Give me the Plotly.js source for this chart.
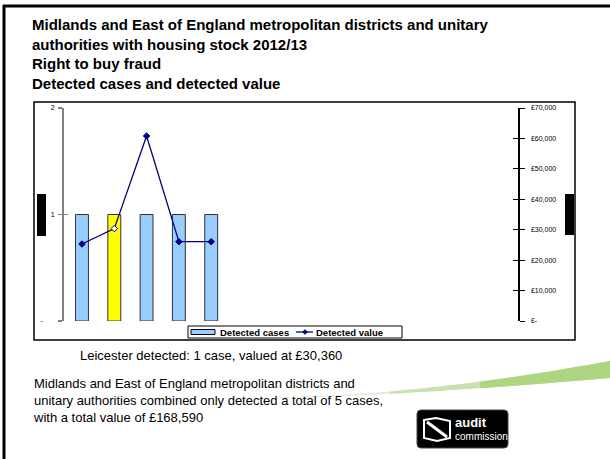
<!DOCTYPE html>
<html>
<head>
<meta charset="utf-8">
<script src="https://cdn.plot.ly/plotly-3.0.1.min.js"></script>
<style>html,body{margin:0;padding:0;background:#fff;}#chart{width:610px;height:459px;}</style>
</head>
<body>
<div id="chart"></div>
<script>
// ---- data ----
const categories = ["Authority 1", "Leicester", "Authority 3", "Authority 4", "Authority 5"];
const detectedCases = [1, 1, 1, 1, 1];
const detectedValue = [25300, 30360, 60800, 26065, 26065];
const caseTickVals = [0, 1, 2];
const caseTickText = ["-\u2007\u2007\u2007", "1", "2"];
const valueTickVals = [0, 10000, 20000, 30000, 40000, 50000, 60000, 70000];
const valueTickText = ["£-", "£10,000", "£20,000", "£30,000", "£40,000", "£50,000", "£60,000", "£70,000"];
const seriesNames = ["Detected cases", "Detected value"];
const highlight = "Leicester";

const W = 610, H = 459;
const px = x => x / W;
const py = y => 1 - y / H;
const FONT = "Liberation Sans, Arial, sans-serif";
const BAR_BLUE = "#99CCFF", NAVY = "#000080";

const barColors = categories.map(c => c === highlight ? "#FFFF00" : BAR_BLUE);
const markerFill = categories.map(c => c === highlight ? "#FFFFFF" : NAVY);

const traces = [
  {
    type: "bar", name: seriesNames[0], x: categories, y: detectedCases,
    width: 0.4, marker: {color: barColors, line: {color: "#333333", width: 1}},
    xaxis: "x", yaxis: "y", hoverinfo: "skip", showlegend: false
  },
  {
    type: "scatter", mode: "lines+markers", name: seriesNames[1], x: categories, y: detectedValue,
    line: {color: NAVY, width: 1.3},
    marker: {symbol: "diamond", size: 5, color: markerFill, line: {color: NAVY, width: 1}},
    xaxis: "x", yaxis: "y2", hoverinfo: "skip", showlegend: false
  },
  {type: "scatter", x: [], y: [], xaxis: "x", yaxis: "y3", showlegend: false},
  {type: "scatter", x: [], y: [], xaxis: "x", yaxis: "y4", showlegend: false}
];

const xDom = [px(64), px(518)];
const yDom = [py(321), py(108)];

function pathPaper(pts) {
  return pts.map((p, i) => (i === 0 ? "M" : "L") + px(p[0]).toFixed(4) + "," + py(p[1]).toFixed(4)).join(" ") + " Z";
}
function swoosh(x0) {
  const top = [], bot = [];
  for (let x = x0; x <= 610; x += 10) {
    const t = (x - 280) / 330;
    top.push([x, 397 - 36 * Math.pow(t, 1.7)]);
    bot.push([x, 398 - 20 * Math.pow(t, 1.4)]);
  }
  return pathPaper(top.concat(bot.reverse()));
}
function rectP(x0, y0, x1, y1) {
  return {x0: px(x0), x1: px(x1), y0: py(y1), y1: py(y0)};
}

// custom legend geometry (box 188..402 x 326..338)
const LG = {x0: 188, y0: 326, x1: 402, y1: 338};
const lgMid = (LG.y0 + LG.y1) / 2;

const shapes = [
  // swoosh layers
  {type: "path", xref: "paper", yref: "paper", path: swoosh(280), fillcolor: "#E3EBD8", line: {width: 0}, layer: "below"},
  {type: "path", xref: "paper", yref: "paper", path: swoosh(390), fillcolor: "#C9E1AC", line: {width: 0}, layer: "below"},
  {type: "path", xref: "paper", yref: "paper", path: swoosh(480), fillcolor: "#AED580", line: {width: 0}, layer: "below"},
  // outer slide frame
  {type: "line", xref: "paper", yref: "paper", x0: px(3), x1: 1, y0: py(6), y1: py(6), line: {color: "#000", width: 3}},
  {type: "line", xref: "paper", yref: "paper", x0: px(4), x1: px(4), y0: py(5), y1: 0, line: {color: "#000", width: 3}},
  // chart box
  Object.assign({type: "rect", xref: "paper", yref: "paper", line: {color: "#000", width: 1.5}}, rectP(34, 102, 575, 340)),
  // masked axis titles
  Object.assign({type: "rect", xref: "paper", yref: "paper", fillcolor: "#000", line: {width: 0}}, rectP(37, 194, 46, 236)),
  Object.assign({type: "rect", xref: "paper", yref: "paper", fillcolor: "#000", line: {width: 0}}, rectP(565, 194, 574, 235)),
  // legend box
  Object.assign({type: "rect", xref: "paper", yref: "paper", fillcolor: "#fff", line: {color: "#000", width: 1}}, rectP(LG.x0, LG.y0, LG.x1, LG.y1)),
  // legend swatch for bars
  Object.assign({type: "rect", xref: "paper", yref: "paper", fillcolor: BAR_BLUE, line: {color: "#000", width: 1}}, rectP(191, lgMid - 2.5, 215, lgMid + 2.5)),
  // legend swatch for line
  {type: "line", xref: "paper", yref: "paper", x0: px(296), x1: px(313), y0: py(lgMid), y1: py(lgMid), line: {color: NAVY, width: 1.3}},
  {type: "path", xref: "paper", yref: "paper",
   path: "M" + px(305) + "," + py(lgMid - 2.5) + " L" + px(307.5) + "," + py(lgMid) + " L" + px(305) + "," + py(lgMid + 2.5) + " L" + px(302.5) + "," + py(lgMid) + " Z",
   fillcolor: NAVY, line: {color: NAVY, width: 0.5}},
  // logo background
  {type: "path", xref: "paper", yref: "paper",
   path: "M" + px(421) + "," + py(410) + " L" + px(504) + "," + py(410) + " Q" + px(508) + "," + py(410) + " " + px(508) + "," + py(414) +
         " L" + px(508) + "," + py(444) + " Q" + px(508) + "," + py(448) + " " + px(504) + "," + py(448) +
         " L" + px(421) + "," + py(448) + " Q" + px(417) + "," + py(448) + " " + px(417) + "," + py(444) +
         " L" + px(417) + "," + py(414) + " Q" + px(417) + "," + py(410) + " " + px(421) + "," + py(410) + " Z",
   fillcolor: "#000", line: {color: "#444", width: 1}},
  // logo icon
  {type: "path", xref: "paper", yref: "paper",
   path: "M" + px(424) + "," + py(420) + " L" + px(436) + "," + py(418) + " L" + px(450) + "," + py(421) +
         " L" + px(450) + "," + py(438) + " L" + px(437) + "," + py(441) + " L" + px(424) + "," + py(438) + " Z",
   fillcolor: "rgba(0,0,0,0)", line: {color: "#fff", width: 2}},
  {type: "line", xref: "paper", yref: "paper", x0: px(427), y0: py(422), x1: px(447), y1: py(437), line: {color: "#fff", width: 3}}
];

const annotations = [
  {text: "<b>" + seriesNames[0] + "</b>", x: px(218), y: py(lgMid + 0.5), xref: "paper", yref: "paper", xanchor: "left", yanchor: "middle",
   showarrow: false, font: {family: FONT, size: 9.5, color: "#000"}},
  {text: "<b>" + seriesNames[1] + "</b>", x: px(314), y: py(lgMid + 0.5), xref: "paper", yref: "paper", xanchor: "left", yanchor: "middle",
   showarrow: false, font: {family: FONT, size: 9.5, color: "#000"}},
  {text: "Leicester detected: 1 case, valued at £30,360", x: px(78), y: py(355), xref: "paper", yref: "paper",
   xanchor: "left", yanchor: "middle", showarrow: false, font: {family: FONT, size: 13, color: "#000"}},
  {text: "Midlands and East of England metropolitan districts and<br>unitary authorities combined only detected a total of 5 cases,<br>with a total value of £168,590",
   x: px(31), y: py(374), xref: "paper", yref: "paper", xanchor: "left", yanchor: "top", align: "left",
   showarrow: false, font: {family: FONT, size: 13, color: "#000"}},
  {text: "<b>audit</b>", x: px(453), y: py(422), xref: "paper", yref: "paper", xanchor: "left", yanchor: "middle",
   showarrow: false, font: {family: FONT, size: 13, color: "#fff"}},
  {text: "commission", x: px(453), y: py(436), xref: "paper", yref: "paper", xanchor: "left", yanchor: "middle",
   showarrow: false, font: {family: FONT, size: 10, color: "#fff"}}
];

const layout = {
  width: W, height: H,
  margin: {l: 0, r: 0, t: 0, b: 0},
  paper_bgcolor: "#fff", plot_bgcolor: "rgba(0,0,0,0)",
  showlegend: false,
  title: {
    text: "<b>Midlands and East of England metropolitan districts and unitary<br>authorities with housing stock 2012/13<br>Right to buy fraud<br>Detected cases and detected value</b>",
    x: px(32), xanchor: "left", xref: "paper", y: py(30), yanchor: "top", yref: "paper",
    font: {family: FONT, size: 15, color: "#000"}
  },
  font: {family: FONT, color: "#000"},
  xaxis: {
    domain: xDom, type: "category", range: [-0.557, 13.5],
    showticklabels: false, showgrid: false, zeroline: false, showline: false, ticks: "", fixedrange: true
  },
  yaxis: {
    domain: yDom, range: [0, 2], tickvals: caseTickVals, ticktext: caseTickText,
    showgrid: false, zeroline: false, showline: true, linecolor: "#808080", linewidth: 2,
    ticks: "outside", ticklen: 4, tickcolor: "#808080", tickwidth: 1.5,
    tickfont: {family: FONT, size: 7, color: "#000"}, ticklabelstandoff: 2, anchor: "x"
  },
  yaxis3: {
    domain: yDom, range: [0, 2], overlaying: "y", tickvals: caseTickVals, showticklabels: false,
    showgrid: false, zeroline: false, showline: false, ticks: "inside", ticklen: 4,
    tickcolor: "#808080", tickwidth: 1.5, anchor: "x"
  },
  yaxis2: {
    domain: yDom, range: [0, 70000], overlaying: "y", side: "right", anchor: "x",
    tickvals: valueTickVals, ticktext: valueTickText,
    showgrid: false, zeroline: false, showline: true, linecolor: "#000", linewidth: 1.5,
    ticks: "outside", ticklen: 5, tickcolor: "#000", tickwidth: 1,
    tickfont: {family: FONT, size: 7, color: "#000"}, ticklabelstandoff: 5
  },
  yaxis4: {
    domain: yDom, range: [0, 70000], overlaying: "y", side: "right", anchor: "x",
    tickvals: valueTickVals, showticklabels: false,
    showgrid: false, zeroline: false, showline: false, ticks: "inside", ticklen: 5, tickcolor: "#000", tickwidth: 1
  },
  shapes: shapes,
  annotations: annotations
};

Plotly.newPlot("chart", traces, layout, {staticPlot: true, displayModeBar: false});
</script>
</body>
</html>
